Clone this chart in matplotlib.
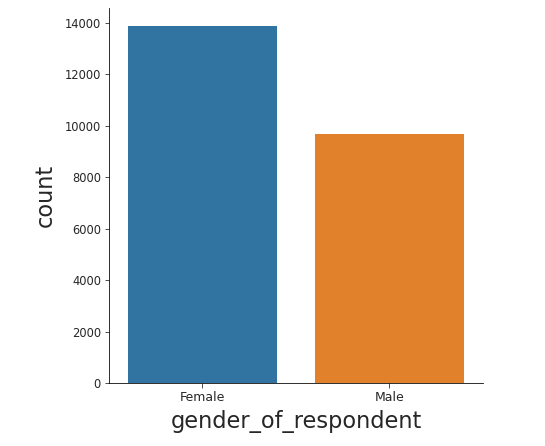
import matplotlib.pyplot as plt
import numpy as np

categories = ['Female', 'Male']
counts = [13880, 9680]
colors = ['#3274a1', '#e1812c']

fig = plt.figure(figsize=(545 / 72, 446 / 72), dpi=72)
ax = fig.add_axes([0.2, 0.1413, 0.686, 0.8407])
index = np.arange(len(categories))
ax.bar(index, counts, 0.8, color=colors)
ax.set_xlim(-0.5, 1.5)
ax.set_ylim(0, max(counts) * 1.05)
ax.set_xticks(index)
ax.set_xticklabels(categories)
ax.set_yticks(np.arange(0, 14001, 2000))
ax.tick_params(length=4.5, colors='#262626', labelcolor='#262626')
ax.tick_params(axis='x', labelsize=12.5)
ax.tick_params(axis='y', labelsize=11.5)
ax.set_xlabel('gender_of_respondent', fontsize=22.5, color='#262626', labelpad=6)
ax.set_ylabel('count', fontsize=22.5, color='#262626', labelpad=8)
ax.spines['top'].set_visible(False)
ax.spines['right'].set_visible(False)
fig.savefig('out.png', dpi=72)
plt.close()
